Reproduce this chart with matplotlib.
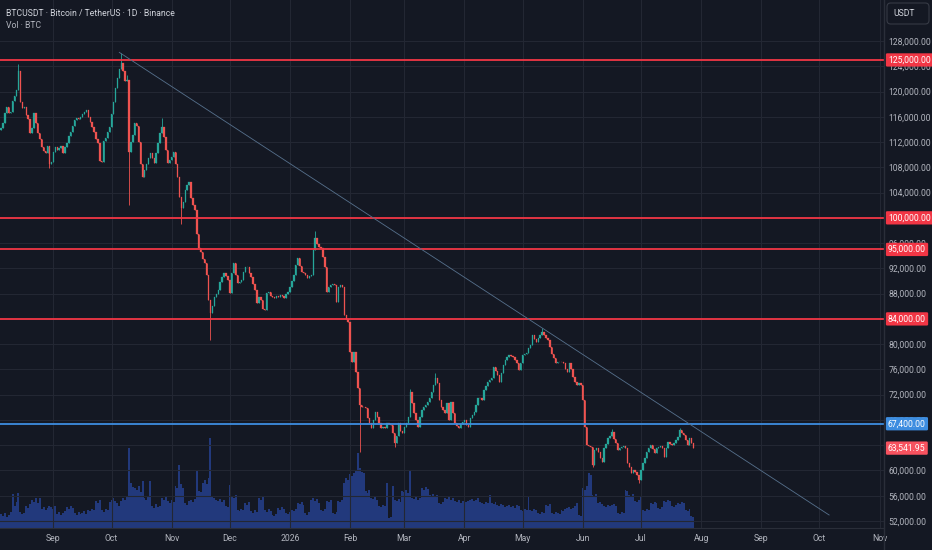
import numpy as np
import pandas as pd
import matplotlib
matplotlib.use("Agg")
import matplotlib.pyplot as plt
import matplotlib.transforms as mtransforms
from matplotlib.lines import Line2D
from matplotlib.patches import FancyBboxPatch

# --- data (prices in thousands of USDT, volume in thousands of BTC) ---
start_date = "2025-08-05"
first_open = 113.9

closes_k = [
    114.2, 115.0, 116.6, 117.5, 116.6, 116.8, 118.5, 119.3, 120.2, 123.3,
    118.3, 117.4, 117.5, 116.3, 115.6, 113.4, 114.2, 116.6, 115.0, 113.5,
    112.5, 111.2, 110.6, 110.3, 111.3,
    108.6, 108.9, 110.5, 111.2, 110.7, 111.0, 111.4, 110.3, 111.2, 111.8,
    112.9, 113.6, 114.6, 115.5, 115.8, 115.6, 115.9, 116.4, 116.8, 117.1,
    116.0, 115.2, 114.4, 113.6, 112.5, 111.8, 109.0, 108.9, 112.1, 112.7,
    113.6, 114.4, 116.5, 118.4, 120.6, 122.1, 123.5, 124.5, 123.3, 121.6,
    121.9, 110.4, 112.0, 113.1, 115.0, 114.5, 112.0,
    108.5, 106.5, 107.6, 108.5, 109.4, 110.3, 109.5, 108.7, 110.2, 111.8,
    113.5, 114.4, 112.8, 110.8, 108.7, 109.2, 109.6, 110.4, 108.5, 106.5,
    103.3, 101.6, 102.5, 104.4, 105.2, 105.7, 103.1, 102.0, 101.2, 97.5,
    95.2, 94.6, 93.5, 92.9, 91.0, 87.0, 84.9, 86.0, 87.5, 88.0,
    88.6, 89.8, 90.6, 91.3, 90.8, 90.2, 88.1, 91.3, 92.9, 91.0,
    89.7, 89.9, 90.2, 91.5, 92.2, 92.2, 91.2, 90.6, 89.5, 88.6,
    86.5, 87.5, 87.0, 85.5, 85.4,
    88.1, 88.3, 87.6, 87.4, 87.3, 87.6, 87.5, 87.8, 87.6, 87.3,
    88.0, 88.3, 89.1, 90.0, 91.0, 92.5, 93.6, 92.3, 91.4, 91.2,
    91.0, 90.5, 90.8, 91.0, 94.9, 96.8, 95.8, 95.4, 95.2, 93.8,
    92.2, 88.3, 89.0, 89.4, 89.6, 89.4, 86.7, 89.1, 89.3, 89.1,
    84.6, 84.0, 83.5, 78.8, 77.2, 78.8, 75.6, 73.1, 70.4, 70.1,
    70.0, 69.9, 68.3, 67.5, 66.7, 68.0, 69.3, 68.5, 67.5, 66.7,
    66.9, 66.7, 67.5, 67.4, 67.2,
    66.0, 64.3, 65.5, 67.5, 66.2, 65.9, 66.9, 67.5, 68.5, 72.4,
    70.7, 69.1, 68.0, 66.9, 68.5, 69.6, 70.0, 70.4, 70.9, 71.5,
    72.4, 73.5, 74.6, 73.9, 71.2, 70.1, 69.6, 69.1, 70.7, 68.0,
    70.9, 69.1, 67.5, 67.0, 66.7, 67.3, 67.7, 68.0, 67.2, 66.9,
    68.3, 68.8, 69.3, 70.4, 71.5, 71.4, 71.2, 72.7, 73.4, 74.0,
    74.3, 74.6, 76.4, 75.8, 75.1, 74.0, 75.5, 76.7, 77.5, 78.0,
    78.3, 78.2, 78.0, 77.5, 77.0, 75.9, 77.0, 78.3, 78.5, 78.6,
    79.4, 79.9, 81.4, 80.8, 80.3, 81.0, 81.4, 81.9, 81.4, 81.0,
    80.7, 79.6, 78.5, 77.8,
    77.0, 77.1, 77.2, 77.1, 77.0, 76.0, 75.6, 77.0, 76.0, 74.8,
    74.0, 73.5, 73.9, 73.5, 71.2, 66.9, 64.0, 63.9, 63.7, 60.9,
    63.2, 63.5, 62.9, 62.0, 61.3, 63.6, 64.2, 65.1, 65.5, 66.1,
    65.0, 64.4, 63.2, 63.5, 63.7, 63.8, 63.6, 61.2, 60.5, 59.6,
    60.0, 59.8, 59.3, 58.5, 60.1, 61.2, 62.0, 62.9, 63.5, 64.0,
    63.4, 62.8, 63.5, 63.7, 63.8, 63.6, 62.1, 63.5, 64.5, 64.2,
    64.0, 64.3, 64.8, 65.3, 66.4, 66.0, 65.6, 64.8, 64.0, 65.1,
    64.3, 63.54195,
]

volumes_k = [
    14, 12, 15, 11, 13, 16, 34, 22, 26, 35,
    16, 14, 15, 22, 20, 24, 28, 26, 30, 25,
    30, 19, 21, 18, 20, 22, 21, 19, 22, 14,
    16, 13, 15, 17, 21, 19, 22, 20, 15, 13,
    16, 14, 15, 17, 14, 18, 17, 19, 18, 27,
    25, 28, 18, 16, 19, 18, 26, 28, 30, 27,
    25, 22, 27, 30, 28, 31, 80, 45, 41, 40,
    38, 42, 36, 47, 30, 28, 31, 47, 22, 20,
    24, 21, 22, 30, 28, 31, 27, 25, 28, 26,
    42, 40, 63, 44, 40, 25, 23, 27, 28, 26,
    29, 58, 37, 36, 45, 48, 44, 50, 90, 32,
    30, 28, 27, 29, 26, 28, 22, 21, 43, 32,
    30, 33, 18, 17, 19, 18, 25, 23, 26, 17,
    15, 18, 16, 30, 28, 31, 18, 16, 19, 17,
    13, 12, 14, 20, 18, 21, 19, 15, 14, 16,
    18, 17, 19, 25, 24, 26, 23, 15, 13, 16,
    28, 30, 27, 29, 25, 18, 17, 19, 27, 26,
    28, 15, 14, 16, 27, 26, 28, 45, 50, 48,
    54, 52, 55, 58, 75, 60, 56, 55, 37, 35,
    38, 30, 29, 31, 28, 22, 21, 23, 22, 45,
    10, 11, 42, 28, 27, 29, 26, 37, 36, 38,
    35, 57, 30, 29, 31, 28, 30, 40, 38, 41,
    39, 33, 32, 34, 31, 33, 25, 24, 26, 30,
    29, 31, 28, 30, 27, 26, 28, 25, 27, 28,
    26, 27, 28, 29, 27, 28, 30, 26, 25, 24,
    26, 25, 33, 25, 24, 26, 23, 22, 24, 23,
    21, 22, 23, 21, 22, 20, 23, 22, 18, 17,
    19, 18, 32, 18, 17, 19, 18, 15, 14, 16,
    15, 23, 22, 24, 15, 14, 16, 15, 14, 18,
    17, 19, 20, 21, 19, 20, 22, 25, 13, 12,
    40, 38, 42, 55, 53, 33, 32, 34, 25, 26,
    24, 22, 21, 23, 22, 23, 24, 22, 15, 14,
    16, 15, 38, 37, 33, 32, 34, 27, 26, 28,
    32, 18, 17, 19, 18, 25, 24, 26, 25, 20,
    19, 21, 27, 26, 28, 27, 22, 21, 23, 25,
    24, 26, 25, 18, 17, 19, 12, 11,
]

# notable wicks (day index, price in thousands)
hi_days = [9, 62, 65, 83, 162, 211, 224, 279, 315, 350]
hi_vals = [124.3, 126.1, 122.6, 115.8, 97.9, 72.9, 75.4, 82.6, 66.5, 66.8]
lo_days = [25, 66, 93, 108, 185, 203, 305, 329]
lo_vals = [107.9, 102.0, 99.0, 80.7, 63.0, 63.7, 60.5, 58.0]

resistance_levels = [125000, 100000, 95000, 84000]
support_level = 67400
last_price = 63541.95
trend_dates = ["2025-10-05", "2026-10-06"]
trend_prices = [126200, 52950]
price_ticks = list(range(52000, 128001, 4000))

# --- colours ---
bg = "#141823"
grid_c = "#232733"
text_c = "#b2b5be"
up_c = "#26a69a"
down_c = "#ef5350"
level_red = "#f23645"
level_blue = "#3d8de0"
vol_c = "#22397c"
fs = 6.2

plt.rcParams["font.family"] = ["Roboto", "DejaVu Sans"]

dates = pd.date_range(start_date, periods=len(closes_k), freq="D")
x = np.asarray((dates - dates[0]).days)
closes = np.array(closes_k) * 1000
opens = np.concatenate([[first_open * 1000], closes[:-1]])
highs = np.maximum(opens, closes)
lows = np.minimum(opens, closes)
highs[hi_days] = np.maximum(highs[hi_days], np.array(hi_vals) * 1000)
lows[lo_days] = np.minimum(lows[lo_days], np.array(lo_vals) * 1000)
colors = np.where(closes >= opens, up_c, down_c)

months = pd.date_range("2025-09-01", "2026-11-01", freq="MS")
month_x = np.asarray((months - dates[0]).days)
month_labels = ["2026" if m.month == 1 else m.strftime("%b") for m in months]

W, H = 932, 550
fig = plt.figure(figsize=(W / 100, H / 100), dpi=100, facecolor=bg)
rect = [0, 22 / H, 884 / W, 1 - 22 / H]

# volume pane underneath
ax_vol = fig.add_axes(rect)
ax_vol.set_facecolor(bg)
ax_vol.bar(x, np.array(volumes_k) * 1000, width=1.0, color=vol_c, linewidth=0)
ax_vol.set_ylim(0, 528000)
ax_vol.set_xlim(-0.5, 455.3)
ax_vol.axis("off")

# price pane on top
ax = fig.add_axes(rect)
ax.set_facecolor("none")
ax.set_xlim(-0.5, 455.3)
ax.set_ylim(50892, 134492)
ax.grid(True, color=grid_c, linewidth=0.8)
ax.set_axisbelow(True)

ax.vlines(x, lows, highs, colors=colors, linewidth=0.6, zorder=3)
ax.bar(x, closes - opens, bottom=opens, width=0.7, color=colors,
       edgecolor=colors, linewidth=0.2, zorder=3)

for lvl in resistance_levels:
    ax.axhline(lvl, color=level_red, linewidth=1.3, zorder=4)
ax.axhline(support_level, color=level_blue, linewidth=1.3, zorder=4)

trend_x = np.asarray((pd.to_datetime(trend_dates) - dates[0]).days)
ax.plot(trend_x, trend_prices, color="#56708c", linewidth=0.6, zorder=4)

ax.yaxis.tick_right()
ax.set_yticks(price_ticks)
ax.set_yticklabels([f"{v:,.2f}" for v in price_ticks])
ax.set_xticks(month_x)
ax.set_xticklabels(month_labels)
ax.tick_params(axis="both", length=0, colors=text_c, labelsize=fs)
ax.tick_params(axis="y", pad=3.4)
ax.tick_params(axis="x", pad=4.2)
for side in ["top", "left", "right"]:
    ax.spines[side].set_visible(False)
ax.spines["bottom"].set_color("#2a2e39")
fig.add_artist(Line2D([884 / W, 884 / W], [0, 1], color="#2a2e39", linewidth=1.0))

# price labels on the axis
blend = mtransforms.blended_transform_factory(fig.transFigure, ax.transData)


def price_tag(price, face):
    ax.text(888 / W, price, f"{price:,.2f}", transform=blend, ha="left", va="center",
            fontsize=fs, color="white", clip_on=False, zorder=10,
            bbox=dict(boxstyle="round,pad=0.25,rounding_size=0.15", fc=face, ec="none"))


for lvl in resistance_levels:
    price_tag(lvl, level_red)
price_tag(support_level, level_blue)
price_tag(last_price, "#f7525f")

# header
fig.text(6 / W, 1 - 13 / H, "BTCUSDT · Bitcoin / TetherUS · 1D · Binance",
         color="#d1d4dc", fontsize=fs, va="center", ha="left")
fig.text(6 / W, 1 - 26 / H, "Vol · BTC", color=text_c, fontsize=fs, va="center", ha="left")

fig.add_artist(FancyBboxPatch((887 / W, 1 - 24 / H), 42 / W, 21 / H,
                              boxstyle="round,pad=0,rounding_size=0.004",
                              mutation_aspect=W / H, transform=fig.transFigure,
                              fc=bg, ec="#363a45", linewidth=0.8))
fig.text(893 / W, 1 - 13.5 / H, "USDT", color="#d1d4dc", fontsize=fs, va="center", ha="left")

fig.savefig("out.png", dpi=100, facecolor=bg)
